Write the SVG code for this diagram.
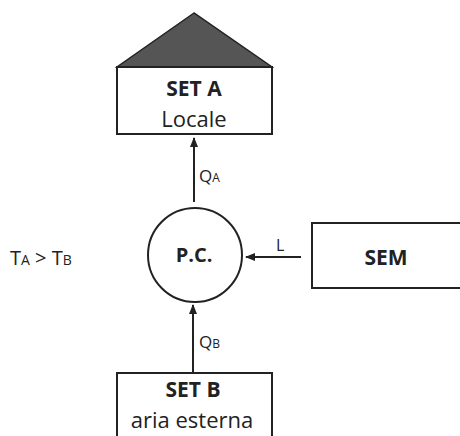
<svg xmlns="http://www.w3.org/2000/svg" width="460" height="436" viewBox="0 0 460 436">
<style>
.box{fill:#fff;stroke:#222;stroke-width:2}
.t{font-family:"Open Sans","Noto Sans",sans-serif;fill:#222;text-anchor:middle}
.b{font-weight:bold}
.lbl{font-family:"Open Sans","Noto Sans",sans-serif;fill:#222}
.con{stroke:#222;stroke-width:2;fill:none;marker-end:url(#ah)}
</style>
<defs>
<marker id="ah" viewBox="0 0 10 10" refX="9" refY="5" markerWidth="5" markerHeight="5" orient="auto" markerUnits="strokeWidth">
<path d="M0,1 L10,5 L0,9 Z" fill="#222"/>
</marker>
</defs>
<rect width="460" height="436" fill="#fff"/>
<g id="setA">
<polygon points="194,13 117,67 272,67" fill="#555" stroke="#222" stroke-width="1.5"/>
<rect class="box" x="117" y="67" width="155" height="67"/>
<text class="t b" x="194" y="96" font-size="21">SET A</text>
<text class="t" x="194" y="127" font-size="22">Locale</text>
</g>
<g id="pc">
<circle cx="195" cy="255" r="47" fill="#fff" stroke="#222" stroke-width="2"/>
<text class="t b" x="194" y="262" font-size="20">P.C.</text>
</g>
<g id="sem">
<rect class="box" x="312" y="223" width="160" height="65"/>
<text class="t b" x="386" y="265" font-size="21">SEM</text>
</g>
<g id="setB">
<rect class="box" x="117" y="373" width="155" height="80"/>
<text class="t b" x="193" y="397" font-size="21">SET B</text>
<text class="t" x="192" y="428" font-size="22">aria esterna</text>
</g>
<g id="condition">
<text class="lbl" x="10" y="265" font-size="20">T<tspan font-size="14">A</tspan> &gt; T<tspan font-size="14">B</tspan></text>
</g>
<g id="connectors">
<line class="con" x1="194" y1="202" x2="194" y2="138"/>
<line class="con" x1="193" y1="373" x2="193" y2="305"/>
<line class="con" x1="301" y1="257" x2="246" y2="257"/>
<text class="lbl" x="199" y="182" font-size="17">Q<tspan font-size="12">A</tspan></text>
<text class="lbl" x="199" y="348" font-size="17">Q<tspan font-size="12">B</tspan></text>
<text class="lbl" x="276" y="251" font-size="16">L</text>
</g>
</svg>
